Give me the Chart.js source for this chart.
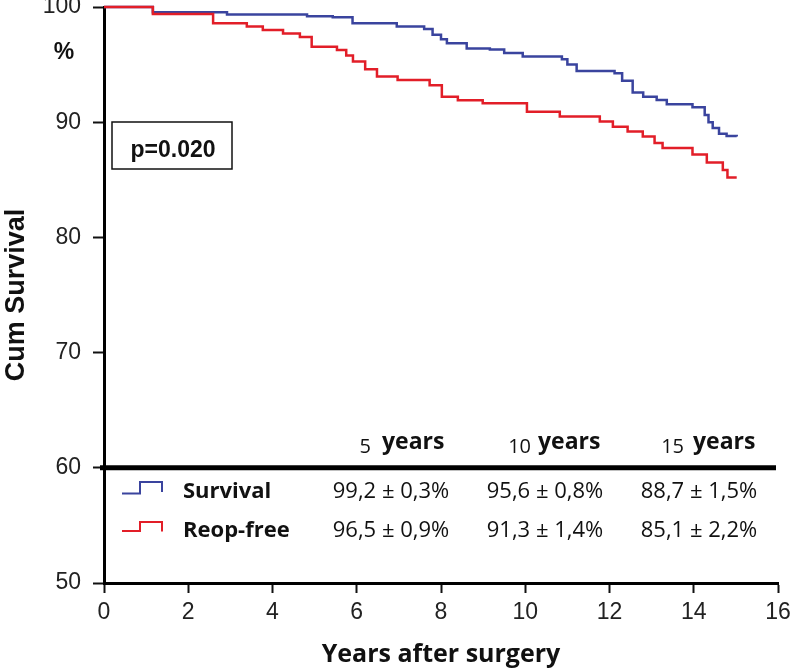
<!DOCTYPE html>
<html><head><meta charset="utf-8">
<script src="https://cdn.jsdelivr.net/npm/chart.js@4.4.0/dist/chart.umd.min.js"></script>
<style>html,body{margin:0;padding:0;background:#fff;}#wrap{width:794px;height:672px;}</style>
</head><body><div id="wrap"><canvas id="c" width="794" height="672"></canvas></div>
<script>
// ---- data ----
const survivalTimes  = [0, 1.16, 2.92, 4.82, 5.43, 5.90, 6.95, 7.60, 7.80, 8.00, 8.14, 8.61, 9.16, 9.50, 9.94, 10.87, 11.00, 11.22, 12.12, 12.30, 12.55, 12.80, 13.12, 13.36, 13.97, 14.26, 14.35, 14.45, 14.60, 14.78, 15.02];
const survivalValues = [100, 99.55, 99.35, 99.2, 99.1, 98.6, 98.3, 98.1, 97.6, 97.2, 96.85, 96.4, 96.3, 96.0, 95.7, 95.46, 95.0, 94.45, 94.25, 93.6, 92.57, 92.2, 91.93, 91.56, 91.3, 90.63, 90.0, 89.5, 89.0, 88.8, 88.75];
const reopTimes  = [0, 1.16, 2.59, 3.39, 3.77, 4.25, 4.65, 4.93, 5.53, 5.75, 5.91, 6.20, 6.48, 6.97, 7.73, 8.02, 8.40, 8.99, 10.04, 10.82, 11.77, 12.08, 12.43, 12.79, 13.07, 13.26, 13.97, 14.31, 14.69, 14.80, 15.02];
const reopValues = [100, 99.4, 98.6, 98.3, 98.0, 97.7, 97.4, 96.56, 96.27, 95.8, 95.26, 94.6, 93.96, 93.67, 93.2, 92.2, 91.9, 91.65, 90.9, 90.5, 90.05, 89.6, 89.2, 88.75, 88.2, 87.75, 87.2, 86.5, 85.86, 85.2, 85.2];
const xTicks = [0, 2, 4, 6, 8, 10, 12, 14, 16];
const yTicks = [50, 60, 70, 80, 90, 100];
const seriesNames = ['Survival', 'Reop-free'];
const tableYears = ['5', '10', '15'];
const survivalTable = ['99,2 ± 0,3%', '95,6 ± 0,8%', '88,7 ± 1,5%'];
const reopTable = ['96,5 ± 0,9%', '91,3 ± 1,4%', '85,1 ± 2,2%'];
const pValueText = 'p=0.020';

const BLUE = 'rgb(58,68,158)';
const RED = 'rgb(226,30,40)';
const SANS = '"Liberation Sans", Arial, sans-serif';
const OPEN = '"Open Sans", sans-serif';

function drawText(ctx, text, x, y, font, align) {
  ctx.font = font;
  ctx.textAlign = align || 'left';
  ctx.textBaseline = 'alphabetic';
  ctx.fillText(text, x, y);
}

const extras = {
  id: 'extras',
  afterDatasetsDraw(chart) {
    const ctx = chart.ctx;
    const ys = chart.scales.y;
    const ca = chart.chartArea;
    ctx.save();
    ctx.fillStyle = '#111';
    // % sign
    drawText(ctx, '%', 64, 59, 'bold 23px ' + SANS, 'center');
    // p-value box
    ctx.strokeStyle = '#111';
    ctx.lineWidth = 1.5;
    ctx.strokeRect(112, 122, 120, 47);
    drawText(ctx, pValueText, 173, 157, 'bold 23px ' + SANS, 'center');
    // thick divider at 60
    const y60 = ys.getPixelForValue(60);
    ctx.strokeStyle = '#000';
    ctx.lineWidth = 5;
    ctx.beginPath();
    ctx.moveTo(ca.left - 4, y60);
    ctx.lineTo(ca.right - 2, y60);
    ctx.stroke();
    // header
    const numRight = [371, 531, 684];
    const yrsLeft = [382, 538, 693];
    tableYears.forEach((t, i) => {
      drawText(ctx, t, numRight[i], 453, '20px ' + OPEN, 'right');
      drawText(ctx, 'years', yrsLeft[i], 449, 'bold 23px ' + OPEN, 'left');
    });
    // rows
    const colCenter = [391, 545, 699];
    const rows = [
      {name: seriesNames[0], vals: survivalTable, color: BLUE, base: 498, icon: [493.5, 482, 492]},
      {name: seriesNames[1], vals: reopTable, color: RED, base: 537, icon: [531, 522, 531.5]}
    ];
    rows.forEach(r => {
      ctx.strokeStyle = r.color;
      ctx.lineWidth = 2;
      ctx.beginPath();
      ctx.moveTo(122, r.icon[0]);
      ctx.lineTo(140, r.icon[0]);
      ctx.lineTo(140, r.icon[1]);
      ctx.lineTo(162, r.icon[1]);
      ctx.lineTo(162, r.icon[2]);
      ctx.stroke();
      ctx.fillStyle = '#111';
      drawText(ctx, r.name, 183, r.base, 'bold 22px ' + OPEN, 'left');
      r.vals.forEach((v, i) => drawText(ctx, v, colCenter[i], r.base, '22px ' + OPEN, 'center'));
    });
    ctx.restore();
  }
};

new Chart(document.getElementById('c'), {
  type: 'line',
  data: {
    datasets: [
      {label: seriesNames[1], data: reopTimes.map((t, i) => ({x: t, y: reopValues[i]})), borderColor: RED, borderWidth: 2.5, pointRadius: 0, stepped: 'before', fill: false, clip: false},
      {label: seriesNames[0], data: survivalTimes.map((t, i) => ({x: t, y: survivalValues[i]})), borderColor: BLUE, borderWidth: 2.5, pointRadius: 0, stepped: 'before', fill: false, clip: false}
    ]
  },
  options: {
    responsive: false,
    devicePixelRatio: 1,
    animation: false,
    layout: {padding: {top: 7, right: 16, left: 0, bottom: 0}, autoPadding: false},
    plugins: {legend: {display: false}, tooltip: {enabled: false}},
    scales: {
      x: {
        type: 'linear', min: 0, max: 16,
        afterBuildTicks: s => { s.ticks = xTicks.map(v => ({value: v})); },
        afterFit: s => { s.height = 89; s.paddingLeft = 0; s.paddingRight = 0; s.paddingTop = 0; s.paddingBottom = 0; },
        ticks: {font: {family: SANS, size: 23}, color: '#222', padding: 6, maxRotation: 0, autoSkip: false},
        grid: {display: true, drawOnChartArea: false, drawTicks: true, tickLength: 10, tickColor: '#111', tickWidth: 2},
        border: {display: true, color: '#000', width: 3},
        title: {display: true, text: 'Years after surgery', color: '#111', font: {family: OPEN, size: 25, weight: 'bold', lineHeight: 1}, padding: {top: 0, bottom: 5}}
      },
      y: {
        type: 'linear', min: 50, max: 100,
        afterBuildTicks: s => { s.ticks = yTicks.map(v => ({value: v})); },
        afterFit: s => { s.width = 104; s.paddingLeft = 0; s.paddingRight = 0; s.paddingTop = 0; s.paddingBottom = 0; },
        ticks: {font: {family: SANS, size: 23}, color: '#222', padding: 12},
        grid: {display: true, drawOnChartArea: false, drawTicks: true, tickLength: 11, tickColor: '#111', tickWidth: 2},
        border: {display: true, color: '#000', width: 3},
        title: {display: true, text: 'Cum Survival', color: '#111', font: {family: SANS, size: 27, weight: 'bold', lineHeight: 1}, padding: {top: 3, bottom: 0}}
      }
    }
  },
  plugins: [extras]
});
</script>
</body></html>
